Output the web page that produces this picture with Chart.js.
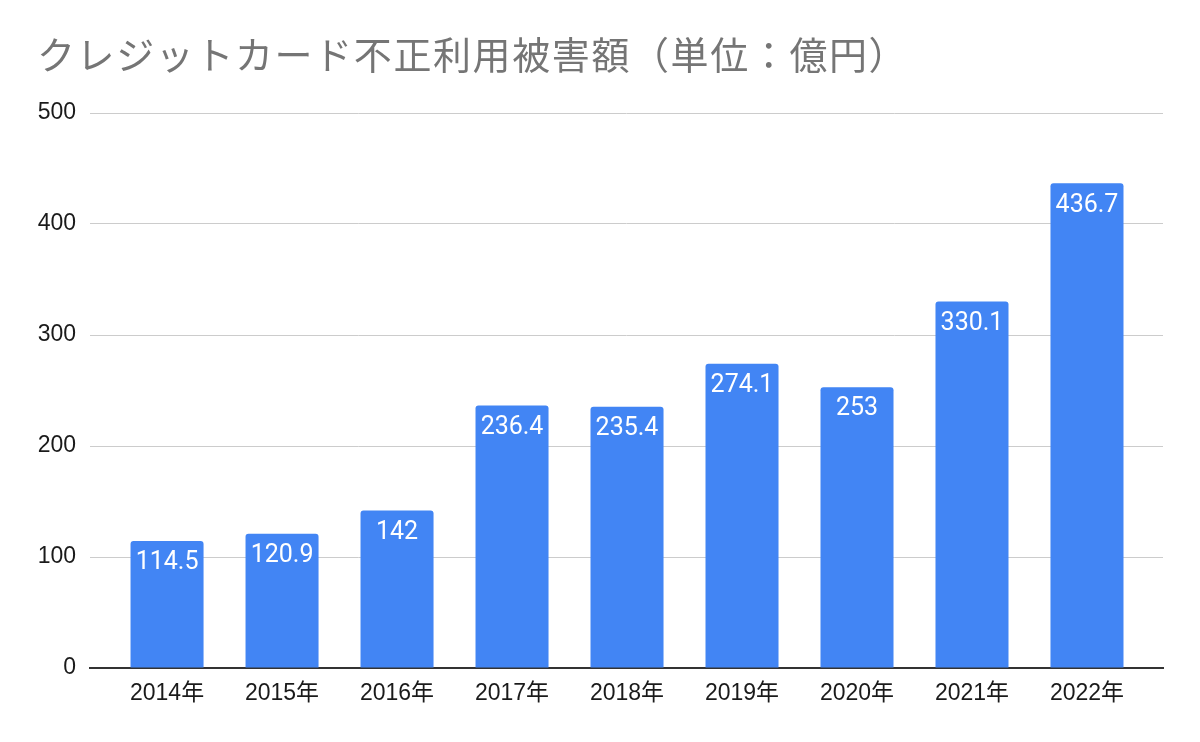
<!DOCTYPE html>
<html>
<head>
<meta charset="utf-8">
<script src="https://cdn.jsdelivr.net/npm/chart.js@4.4.0/dist/chart.umd.min.js"></script>
<style>
  html, body { margin: 0; padding: 0; background: #fff; }
  #wrap { position: relative; width: 1200px; height: 742px; }
  #title {
    position: absolute; left: 37px; top: 34px; margin: 0;
    font-family: "Noto Sans CJK JP", "Noto Sans", sans-serif;
    font-size: 38px; line-height: 38px; font-weight: 400;
    letter-spacing: 1.6px; color: #757575; white-space: nowrap;
  }
  canvas { position: absolute; left: 0; top: 0; }
</style>
</head>
<body>
<div id="wrap">
  <canvas id="c" width="1200" height="742"></canvas>
  <h1 id="title">クレジットカード不正利用被害額（単位：億円）</h1>
</div>
<script>
const categories = ["2014年", "2015年", "2016年", "2017年", "2018年", "2019年", "2020年", "2021年", "2022年"];
const damage = [114.5, 120.9, 142, 236.4, 235.4, 274.1, 253, 330.1, 436.7];
const yTicks = [0, 100, 200, 300, 400, 500];

const tickFont = { family: '"Liberation Sans", Arial, "Noto Sans CJK JP", sans-serif', size: 23 };

const valueLabels = {
  id: 'valueLabels',
  afterDatasetsDraw(chart) {
    const ctx = chart.ctx;
    const meta = chart.getDatasetMeta(0);
    ctx.save();
    ctx.fillStyle = '#ffffff';
    ctx.font = '25px Roboto, "Liberation Sans", sans-serif';
    ctx.textAlign = 'center';
    ctx.textBaseline = 'middle';
    meta.data.forEach((bar, i) => {
      ctx.fillText(String(damage[i]), bar.x, bar.y + 22);
    });
    ctx.restore();
  }
};

new Chart(document.getElementById('c'), {
  type: 'bar',
  data: {
    datasets: [{
      data: damage.map((v, i) => ({ x: i, y: v })),
      backgroundColor: '#4285F4',
      borderRadius: 3,
      borderSkipped: 'start',
      categoryPercentage: 1,
      barPercentage: 0.635
    }]
  },
  options: {
    responsive: false,
    animation: false,
    devicePixelRatio: 1,
    layout: { padding: { top: 113, right: 37, left: 0, bottom: 0 } },
    plugins: { legend: { display: false }, tooltip: { enabled: false }, title: { display: false } },
    scales: {
      x: {
        type: 'linear',
        offset: false,
        bounds: 'ticks',
        min: -0.67,
        max: 8.661,
        afterBuildTicks(scale) { scale.ticks = categories.map((_, i) => ({ value: i })); },
        afterFit(scale) { scale.height = 74; },
        grid: { display: false, drawTicks: false },
        border: { display: true, color: '#333333', width: 2 },
        ticks: {
          autoSkip: false,
          maxRotation: 0,
          padding: 12,
          color: '#1a1a1a',
          font: tickFont,
          callback: (v) => categories[v] ?? ''
        }
      },
      y: {
        min: 0,
        max: 500,
        afterBuildTicks(scale) { scale.ticks = yTicks.map(v => ({ value: v })); },
        afterFit(scale) { scale.width = 90; },
        grid: { color: '#cccccc', lineWidth: 1, drawTicks: false },
        border: { display: false },
        ticks: { padding: 14, color: '#1a1a1a', font: tickFont }
      }
    }
  },
  plugins: [valueLabels]
});
</script>
</body>
</html>
